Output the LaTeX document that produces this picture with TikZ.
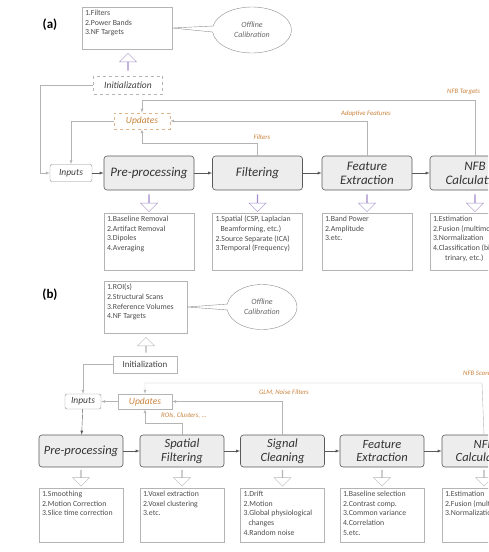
\documentclass[tikz,border=0pt]{standalone}
\usepackage{fontspec}
\setmainfont{Carlito}
\usetikzlibrary{shapes.arrows,shapes.callouts,shapes.geometric}
\definecolor{boxgray}{HTML}{EDEDED}
\definecolor{edgegray}{HTML}{595959}
\definecolor{linegray}{HTML}{B4B4B4}
\definecolor{amber}{HTML}{C8823C}
\definecolor{lavender}{HTML}{A48CCB}

\begin{document}
\begin{tikzpicture}[x=1pt, y=-1pt, >=latex, thin]
\useasboundingbox (0,0) rectangle (488,552);
\clip (0,0) rectangle (488,552);

\tikzstyle{proc}=[draw=edgegray, fill=boxgray, rounded corners=3pt, line width=0.6pt,
  minimum width=90, minimum height=34, align=center, text=black!80,
  font=\fontsize{13}{14}\selectfont\itshape]
\tikzstyle{small}=[draw=linegray, rounded corners=2pt, inner sep=1pt, text=black!75,
  font=\fontsize{9.5}{10}\selectfont\itshape]
\tikzstyle{listbox}=[draw=linegray, minimum width=90, minimum height=57]
\tikzstyle{listtext}=[anchor=north west, align=left, inner sep=3pt, text=black!70,
  font=\fontsize{7.8}{9.7}\selectfont]
\tikzstyle{hollow}=[single arrow, draw=lavender, fill=white, rotate=-90, inner sep=0pt,
  minimum width=17, single arrow head extend=4.5, minimum height=17]
\tikzstyle{feed}=[draw=linegray]
\tikzstyle{tag}=[text=amber, font=\fontsize{6.8}{7}\selectfont\itshape, inner sep=1pt]
\tikzstyle{cloud}=[ellipse callout, draw=black!45, align=center, text=black!60,
  font=\fontsize{8}{9.5}\selectfont\itshape]

% ---------- panel (a)
\node[font=\fontsize{13}{14}\selectfont\bfseries] (labela) at (50,25) {(a)};
\node[draw=linegray, minimum width=90, minimum height=42] (seta) at (127,28) {};
\node[listtext] at (seta.north west) {1.Filters\\2.Power Bands\\3.NF Targets};
\node[cloud, minimum width=79, minimum height=46, callout absolute pointer=(seta.east)]
  (calla) at (252,30) {Offline\\Calibration};
\node[hollow, rotate=180] (upa) at (128,62) {};
\node[small, draw=linegray, dashed, rounded corners=0pt, minimum width=69, minimum height=18]
  (inita) at (128,85) {Initialization};
\node[small, draw=amber!60, dashed, rounded corners=0pt, text=amber, minimum width=56,
  minimum height=16] (upda) at (142,121) {Updates};

\node[small, draw=black!45, minimum width=42, minimum height=17] (inputsa) at (71,173) {Inputs};
\node[proc] (prea) at (149,173) {Pre-processing};
\node[proc] (filta) at (257.5,173) {Filtering};
\node[proc] (fea) at (367,173) {Feature\\Extraction};
\node[proc] (nfba) at (475,173) {NFB\\Calculation};

\draw[->, edgegray] (inputsa) -- (prea);
\draw[->, edgegray] (prea) -- (filta);
\draw[->, edgegray] (filta) -- (fea);
\draw[->, edgegray] (fea) -- (nfba);

\draw[feed, ->] (inita.west) -- (40,85) |- (inputsa.west);
\draw[feed, ->] (upda.west) -| (inputsa.north);
\draw[feed, ->] (nfba.north) -- (475,100) -| (upda.north);
\draw[feed, ->] (fea.north) |- (upda.east);
\draw[feed, ->] (filta.north) -- (257.5,143) -| (upda.south);
\node[tag] (filtersa) at (262,137) {Filters};
\node[tag] (adapta) at (366,114) {Adaptive Features};
\node[tag, anchor=west] (targeta) at (446,92) {NFB Targets};

\node[hollow] (downa1) at (149,203) {};
\node[hollow] (downa2) at (257.5,203) {};
\node[hollow] (downa3) at (367,203) {};
\node[hollow] (downa4) at (475,203) {};

\node[listbox] (lista1) at (149,241.5) {};
\node[listtext] at (lista1.north west) {1.Baseline Removal\\2.Artifact Removal\\3.Dipoles\\4.Averaging};
\node[listbox] (lista2) at (257.5,241.5) {};
\node[listtext] at (lista2.north west) {1.Spatial (CSP, Laplacian\\\hspace*{5pt}Beamforming, etc.)\\2.Source Separate (ICA)\\3.Temporal (Frequency)};
\node[listbox] (lista3) at (367,241.5) {};
\node[listtext] at (lista3.north west) {1.Band Power\\2.Amplitude\\3.etc.};
\node[listbox] (lista4) at (475,241.5) {};
\node[listtext] at (lista4.north west) {1.Estimation\\2.Fusion (multimodal)\\3.Normalization\\4.Classification (binary,\\\hspace*{12pt}trinary, etc.)};

% ---------- panel (b)
\node[font=\fontsize{13}{14}\selectfont\bfseries] (labelb) at (50,295) {(b)};
\node[draw=linegray, minimum width=83, minimum height=52] (setb) at (145.5,307) {};
\node[listtext] at (setb.north west) {1.ROI(s)\\2.Structural Scans\\3.Reference Volumes\\4.NF Targets};
\node[cloud, minimum width=70, minimum height=45, callout absolute pointer=(setb.east)]
  (callb) at (262,307) {Offline\\Calibration};
\node[hollow, draw=linegray, rotate=180, minimum height=15] (upb) at (146,345) {};
\node[small, rounded corners=0pt, font=\fontsize{9}{10}\selectfont, minimum width=64,
  minimum height=17] (initb) at (145,364.5) {Initialization};
\node[small, draw=black!45, minimum width=36, minimum height=15] (inputsb) at (83,401.5) {Inputs};
\node[small, rounded corners=0pt, text=amber, minimum width=54, minimum height=15]
  (updb) at (145,401.5) {Updates};

\tikzstyle{proc}+=[minimum width=84, minimum height=32, font=\fontsize{12.5}{13.5}\selectfont\itshape]
\node[proc] (preb) at (81,451) {Pre-processing};
\node[proc] (spatb) at (182,451) {Spatial\\Filtering};
\node[proc] (sigb) at (282.5,451) {Signal\\Cleaning};
\node[proc] (feb) at (382,451) {Feature\\Extraction};
\node[proc] (nfbb) at (484,451) {NFB\\Calculation};

\draw[->, edgegray] (inputsb) -- (preb);
\draw[->, edgegray] (preb) -- (spatb);
\draw[->, edgegray] (spatb) -- (sigb);
\draw[->, edgegray] (sigb) -- (feb);
\draw[->, edgegray] (feb) -- (nfbb);

\draw[feed, ->] (initb.west) -| (inputsb.north);
\draw[feed, ->] (updb.west) -- (inputsb.east);
\draw[feed, ->] (nfbb.north) -- (482,383) -| (updb.north);
\draw[feed, ->] (sigb.north) |- (updb.east);
\draw[feed, ->] (spatb.north) -- (182,423) -| (updb.south);
\node[tag] (glmb) at (284,393) {GLM, Noise Filters};
\node[tag] (roib) at (184,416) {ROIs, Clusters, ...};
\node[tag, anchor=west] (targetb) at (462,373) {NFB Scores};

\tikzstyle{hollow}+=[draw=linegray, minimum height=16]
\node[hollow] (downb1) at (81,478) {};
\node[hollow] (downb2) at (182,478) {};
\node[hollow] (downb3) at (282.5,478) {};
\node[hollow] (downb4) at (382,478) {};
\node[hollow] (downb5) at (484,478) {};

\tikzstyle{listbox}+=[minimum width=84, minimum height=54]
\node[listbox] (listb1) at (81,515) {};
\node[listtext] at (listb1.north west) {1.Smoothing\\2.Motion Correction\\3.Slice time correction};
\node[listbox] (listb2) at (182,515) {};
\node[listtext] at (listb2.north west) {1.Voxel extraction\\2.Voxel clustering\\3.etc.};
\node[listbox] (listb3) at (282.5,515) {};
\node[listtext] at (listb3.north west) {1.Drift\\2.Motion\\3.Global physiological\\\hspace*{5pt}changes\\4.Random noise};
\node[listbox] (listb4) at (382,515) {};
\node[listtext] at (listb4.north west) {1.Baseline selection\\2.Contrast comp.\\3.Common variance\\4.Correlation\\5.etc.};
\node[listbox] (listb5) at (484,515) {};
\node[listtext] at (listb5.north west) {1.Estimation\\2.Fusion (multimodal)\\3.Normalization};

\end{tikzpicture}
\end{document}
